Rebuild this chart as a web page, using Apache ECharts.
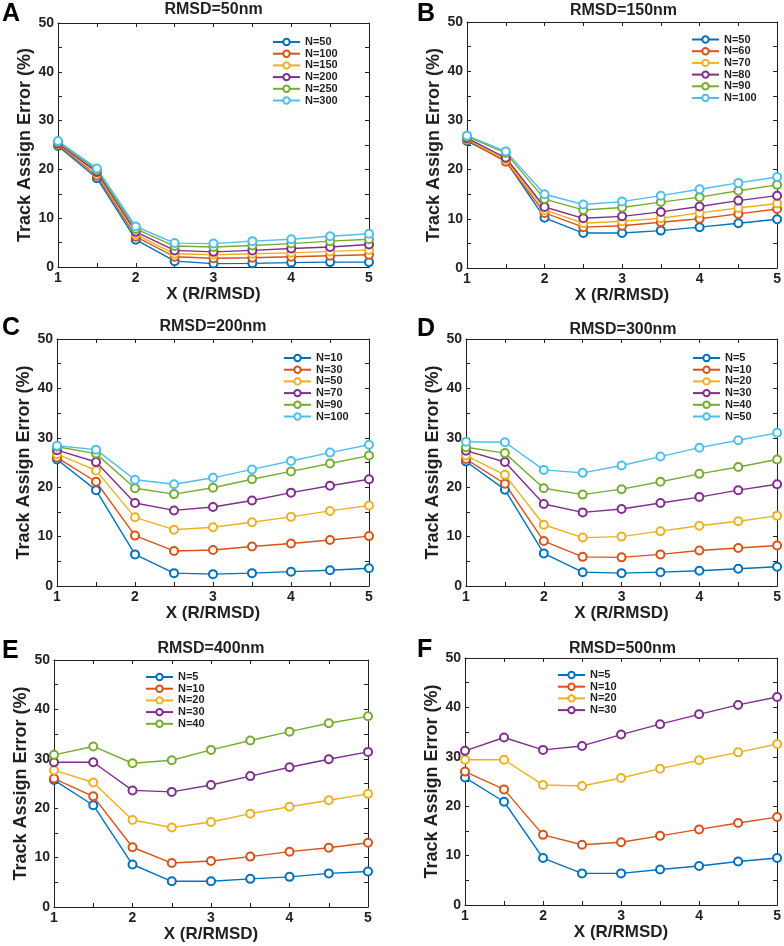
<!DOCTYPE html>
<html>
<head>
<meta charset="utf-8">
<script src="https://cdn.jsdelivr.net/npm/echarts@6/dist/echarts.min.js"></script>
<style>
html,body{margin:0;padding:0;background:#fff;}
#main{width:784px;height:946px;}
</style>
</head>
<body>
<div id="main"></div>
<script>
// ---- data ----
const xValues = [1, 1.5, 2, 2.5, 3, 3.5, 4, 4.5, 5];
const seriesColors = ['#0072BD', '#D95319', '#EDB120', '#7E2F8E', '#77AC30', '#4DBEEE'];

const titleA = 'RMSD=50nm';
const namesA = ['N=50', 'N=100', 'N=150', 'N=200', 'N=250', 'N=300'];
const valuesA_N50  = [24.8, 18.2, 5.6, 1.2, 0.7, 0.75, 0.9, 1.0, 1.0];
const valuesA_N100 = [25.0, 18.7, 6.2, 2.1, 1.8, 1.9, 2.1, 2.3, 2.5];
const valuesA_N150 = [25.2, 19.2, 6.7, 2.7, 2.5, 2.7, 2.9, 3.2, 3.5];
const valuesA_N200 = [25.3, 19.5, 7.2, 3.4, 3.1, 3.4, 3.8, 4.1, 4.6];
const valuesA_N250 = [25.6, 19.9, 7.8, 4.3, 4.1, 4.4, 4.8, 5.3, 5.7];
const valuesA_N300 = [25.8, 20.2, 8.3, 4.9, 4.8, 5.3, 5.7, 6.3, 6.8];

const titleB = 'RMSD=150nm';
const namesB = ['N=50', 'N=60', 'N=70', 'N=80', 'N=90', 'N=100'];
const valuesB_N50  = [25.8, 21.8, 10.2, 7.1, 7.1, 7.6, 8.3, 9.1, 9.9];
const valuesB_N60  = [26.0, 21.6, 11.2, 8.3, 8.6, 9.3, 10.0, 11.0, 12.0];
const valuesB_N70  = [26.2, 22.0, 11.8, 9.1, 9.5, 10.1, 11.2, 12.2, 13.1];
const valuesB_N80  = [26.4, 22.4, 12.4, 10.1, 10.5, 11.4, 12.5, 13.7, 14.7];
const valuesB_N90  = [26.7, 23.4, 14.0, 11.8, 12.3, 13.4, 14.4, 15.7, 16.9];
const valuesB_N100 = [26.9, 23.7, 15.0, 12.9, 13.5, 14.7, 16.0, 17.3, 18.5];

const titleC = 'RMSD=200nm';
const namesC = ['N=10', 'N=30', 'N=50', 'N=70', 'N=90', 'N=100'];
const valuesC_N10  = [25.6, 19.4, 6.4, 2.6, 2.4, 2.6, 2.9, 3.2, 3.6];
const valuesC_N30  = [26.0, 21.1, 10.2, 7.1, 7.3, 8.0, 8.6, 9.3, 10.1];
const valuesC_N50  = [26.7, 23.4, 13.9, 11.4, 11.9, 12.9, 14.0, 15.2, 16.3];
const valuesC_N70  = [27.5, 25.1, 16.8, 15.3, 16.0, 17.3, 18.9, 20.3, 21.6];
const valuesC_N90  = [28.2, 26.8, 19.8, 18.6, 19.9, 21.6, 23.2, 24.8, 26.4];
const valuesC_N100 = [28.4, 27.6, 21.5, 20.6, 21.9, 23.6, 25.3, 27.0, 28.6];

const titleD = 'RMSD=300nm';
const namesD = ['N=5', 'N=10', 'N=20', 'N=30', 'N=40', 'N=50'];
const valuesD_N5  = [25.2, 19.5, 6.6, 2.8, 2.6, 2.8, 3.1, 3.5, 3.9];
const valuesD_N10 = [25.7, 20.7, 9.1, 5.9, 5.8, 6.4, 7.2, 7.7, 8.2];
const valuesD_N20 = [26.4, 22.5, 12.4, 9.8, 10.0, 11.1, 12.2, 13.1, 14.2];
const valuesD_N30 = [27.4, 25.1, 16.6, 14.9, 15.6, 16.8, 18.0, 19.4, 20.6];
const valuesD_N40 = [28.1, 26.9, 19.8, 18.5, 19.6, 21.1, 22.7, 24.1, 25.6];
const valuesD_N50 = [29.2, 29.1, 23.5, 22.9, 24.4, 26.2, 28.0, 29.5, 31.0];

const titleE = 'RMSD=400nm';
const namesE = ['N=5', 'N=10', 'N=20', 'N=30', 'N=40'];
const valuesE_N5  = [25.7, 20.6, 8.6, 5.2, 5.2, 5.7, 6.1, 6.8, 7.2];
const valuesE_N10 = [26.0, 22.4, 12.1, 8.9, 9.3, 10.2, 11.2, 12.0, 13.0];
const valuesE_N20 = [27.7, 25.2, 17.6, 16.1, 17.2, 18.9, 20.3, 21.6, 22.9];
const valuesE_N30 = [29.3, 29.3, 23.6, 23.3, 24.7, 26.5, 28.3, 29.9, 31.4];
const valuesE_N40 = [30.8, 32.5, 29.1, 29.7, 31.8, 33.7, 35.5, 37.2, 38.6];

const titleF = 'RMSD=500nm';
const namesF = ['N=5', 'N=10', 'N=20', 'N=30'];
const valuesF_N5  = [25.8, 20.9, 9.5, 6.4, 6.4, 7.2, 7.9, 8.8, 9.5];
const valuesF_N10 = [27.0, 23.4, 14.2, 12.2, 12.7, 14.0, 15.3, 16.6, 17.8];
const valuesF_N20 = [29.4, 29.4, 24.3, 24.1, 25.7, 27.6, 29.3, 30.9, 32.6];
const valuesF_N30 = [31.2, 33.9, 31.4, 32.2, 34.5, 36.6, 38.6, 40.5, 42.1];

const yTicks = [0, 10, 20, 30, 40, 50];
const xTicks = [1, 2, 3, 4, 5];
const xAxisTitle = 'X (R/RMSD)';
const yAxisTitle = 'Track Assign Error (%)';

// ---- layout (positions/styles) ----
const panels = [
  {letter: 'A', title: titleA, names: namesA, values: [valuesA_N50, valuesA_N100, valuesA_N150, valuesA_N200, valuesA_N250, valuesA_N300],
   grid: {left: 58, top: 23, width: 311, height: 244}, legend: {left: 272, top: 36.5}, titleY: 10, letterX: 2, letterY: 14},
  {letter: 'B', title: titleB, names: namesB, values: [valuesB_N50, valuesB_N60, valuesB_N70, valuesB_N80, valuesB_N90, valuesB_N100],
   grid: {left: 467, top: 22, width: 313, height: 246}, legend: {left: 691, top: 34}, titleY: 11, letterX: 417, letterY: 14},
  {letter: 'C', title: titleC, names: namesC, values: [valuesC_N10, valuesC_N30, valuesC_N50, valuesC_N70, valuesC_N90, valuesC_N100],
   grid: {left: 57, top: 339, width: 312, height: 247}, legend: {left: 283, top: 352.5}, titleY: 327, letterX: 2, letterY: 328},
  {letter: 'D', title: titleD, names: namesD, values: [valuesD_N5, valuesD_N10, valuesD_N20, valuesD_N30, valuesD_N40, valuesD_N50],
   grid: {left: 466, top: 339, width: 314, height: 247}, legend: {left: 692, top: 352.5}, titleY: 330, letterX: 417, letterY: 329},
  {letter: 'E', title: titleE, names: namesE, values: [valuesE_N5, valuesE_N10, valuesE_N20, valuesE_N30, valuesE_N40],
   grid: {left: 54, top: 660, width: 314, height: 247}, legend: {left: 145, top: 671.5}, titleY: 649, letterX: 2, letterY: 651},
  {letter: 'F', title: titleF, names: namesF, values: [valuesF_N5, valuesF_N10, valuesF_N20, valuesF_N30],
   grid: {left: 465, top: 658, width: 315, height: 247}, legend: {left: 557, top: 669.5}, titleY: 649, letterX: 417, letterY: 650}
];

const FONT = '"Liberation Sans", Arial, Helvetica, sans-serif';
const TXT = '#231f20';

const option = {
  animation: false,
  backgroundColor: '#fff',
  grid: [], xAxis: [], yAxis: [], series: [], legend: [], graphic: []
};

panels.forEach((p, i) => {
  option.grid.push(Object.assign({containLabel: false}, p.grid));
  const axisLine = {show: true, onZero: false, lineStyle: {color: TXT, width: 1}};
  const axisTick = {show: true, inside: true, length: 4, lineStyle: {color: TXT, width: 1}};
  const labelStyle = {color: TXT, fontFamily: FONT, fontWeight: 'bold', fontSize: 14};
  // bottom x
  option.xAxis.push({
    type: 'value', gridIndex: i, position: 'bottom', min: 1, max: 5, interval: 0.5,
    axisLine, axisTick, splitLine: {show: false},
    axisLabel: Object.assign({margin: 4, showMinLabel: true, showMaxLabel: true, hideOverlap: false,
      formatter: v => (xTicks.indexOf(v) >= 0 ? String(v) : '')}, labelStyle),
    name: xAxisTitle, nameLocation: 'middle', nameGap: 17,
    nameTextStyle: {color: TXT, fontFamily: FONT, fontWeight: 'bold', fontSize: 17}
  });
  // top x (ticks only)
  option.xAxis.push({
    type: 'value', gridIndex: i, position: 'top', min: 1, max: 5, interval: 0.5,
    axisLine, axisTick, splitLine: {show: false}, axisLabel: {show: false}
  });
  // left y
  option.yAxis.push({
    type: 'value', gridIndex: i, position: 'left', min: 0, max: 50, interval: 5,
    axisLine, axisTick, splitLine: {show: false},
    axisLabel: Object.assign({margin: 4, formatter: v => (yTicks.indexOf(v) >= 0 ? String(v) : '')}, labelStyle),
    name: yAxisTitle, nameLocation: 'middle', nameGap: 22, nameRotate: 90,
    nameTextStyle: {color: TXT, fontFamily: FONT, fontWeight: 'bold', fontSize: 18}
  });
  // right y (ticks only)
  option.yAxis.push({
    type: 'value', gridIndex: i, position: 'right', min: 0, max: 50, interval: 5,
    axisLine, axisTick, splitLine: {show: false}, axisLabel: {show: false}
  });

  const legendData = [];
  p.values.forEach((vals, k) => {
    const sName = p.letter + ':' + p.names[k];
    legendData.push(sName);
    option.series.push({
      type: 'line', name: sName, xAxisIndex: 2 * i, yAxisIndex: 2 * i,
      data: xValues.map((x, j) => [x, vals[j]]),
      symbol: 'emptyCircle', symbolSize: 8, clip: false,
      color: seriesColors[k],
      lineStyle: {width: 1.4, color: seriesColors[k]},
      itemStyle: {color: seriesColors[k], borderWidth: 1.3, borderColor: seriesColors[k]},
      emphasis: {disabled: true}
    });
  });
  option.legend.push({
    data: legendData, orient: 'vertical', left: p.legend.left, top: p.legend.top,
    padding: 0, itemWidth: 27, itemHeight: 8, itemGap: 0.7, selectedMode: false,
    formatter: n => n.split(':')[1],
    textStyle: {color: TXT, fontFamily: FONT, fontWeight: 'bold', fontSize: 11, padding: 0}
  });

  const cx = p.grid.left + p.grid.width / 2;
  option.graphic.push({
    type: 'text', x: cx, y: p.titleY, silent: true,
    style: {text: p.title, align: 'center', verticalAlign: 'middle', fill: TXT,
      font: 'bold 16px ' + FONT}
  });
  option.graphic.push({
    type: 'text', x: p.letterX, y: p.letterY, silent: true,
    style: {text: p.letter, align: 'left', verticalAlign: 'middle', fill: '#000',
      font: 'bold 25px ' + FONT}
  });
});

const chart = echarts.init(document.getElementById('main'), null, {renderer: 'canvas'});
chart.setOption(option);
</script>
</body>
</html>
